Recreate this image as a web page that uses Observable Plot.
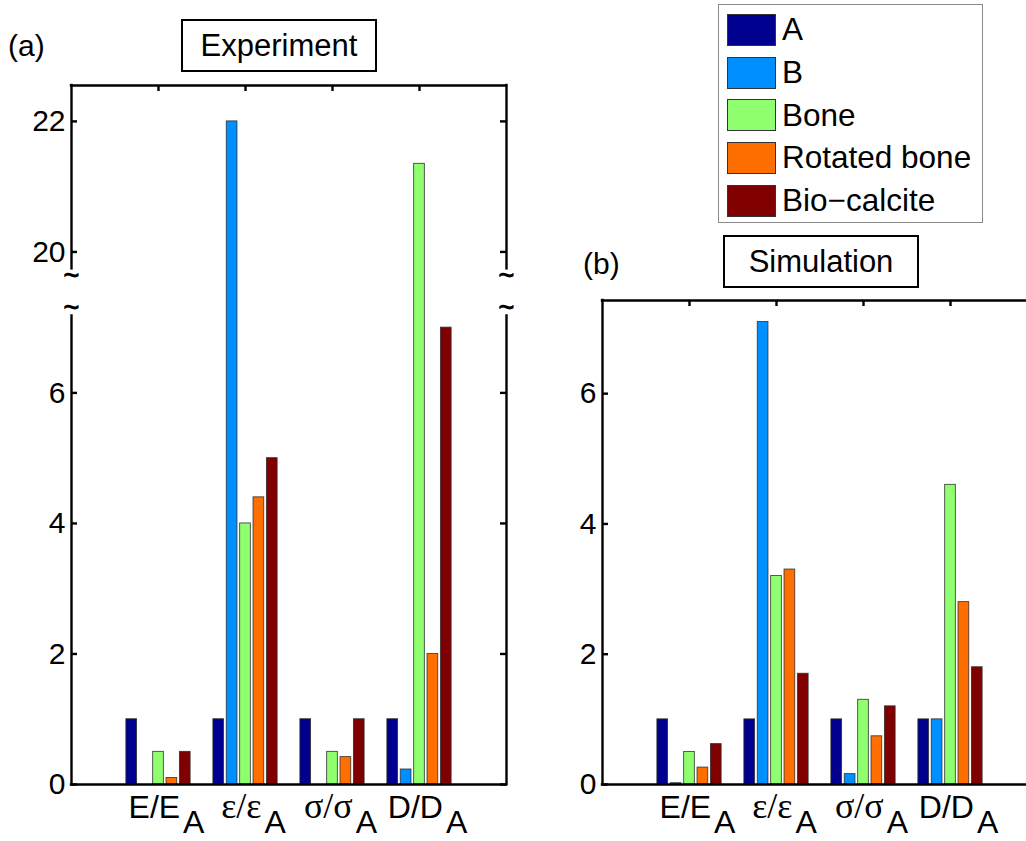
<!DOCTYPE html>
<html>
<head>
<meta charset="utf-8">
<script src="https://cdn.jsdelivr.net/npm/d3@7"></script>
<script src="https://cdn.jsdelivr.net/npm/@observablehq/plot@0.6"></script>
<style>
  html, body { margin: 0; padding: 0; background: #fff; overflow: hidden; width: 1026px; height: 841px; }
  #root { position: relative; width: 1026px; height: 841px; font-family: "Liberation Sans", Arial, Helvetica, sans-serif; color: #000; overflow: hidden; }
  .panel { position: absolute; top: 0; }
  .tag { position: absolute; font-size: 30px; line-height: 1; }
  .titlebox { position: absolute; border: 2px solid #000; box-sizing: border-box; display: flex; align-items: center; justify-content: center; font-size: 31px; background: #fff; }
  .legend { position: absolute; border: 1px solid #8a8a8a; background: #fff; box-sizing: border-box; }
  .legend .row { position: absolute; left: 8px; display: flex; align-items: center; height: 32px; }
  .legend .sw { width: 49px; height: 32px; border: 1px solid #333; box-sizing: border-box; }
  .legend .lab { font-size: 31.5px; margin-left: 6px; line-height: 1; }
</style>
</head>
<body>
<div id="root"></div>
<script>
// Ratio groups on the x axis (numerator/denominator, subscript appended below)
const categories = ["E/E", "ε/ε", "σ/σ", "D/D"];
const greekCategory = [false, true, true, false];
const subscript = "A";

// Materials (one bar per material in each group)
const series = ["A", "B", "Bone", "Rotated bone", "Bio\u2212calcite"];
const colors = ["#00008F", "#008FFF", "#8FFF6F", "#FF6F00", "#800000"];

// Experiment values, one array per material, in category order
const expA    = [1, 1, 1, 1];
const expB    = [0, 22, 0, 0.23];
const expBone = [0.5, 4.0, 0.5, 21.35];
const expRot  = [0.1, 4.4, 0.42, 2.0];
const expBio  = [0.5, 5.0, 1.0, 7.0];

// Simulation values
const simA    = [1, 1, 1, 1];
const simB    = [0.02, 7.1, 0.16, 1.0];
const simBone = [0.5, 3.2, 1.3, 4.6];
const simRot  = [0.26, 3.3, 0.74, 2.8];
const simBio  = [0.62, 1.7, 1.2, 1.8];

// Tick labels
const expTicks = [0, 2, 4, 6, 20, 22];
const simTicks = [0, 2, 4, 6];

// Broken y axis of the experiment panel: values above the break are shifted down
const expBreak = { low: 7.18, high: 19.74, gap: 0.72 };
expBreak.offset = expBreak.high - expBreak.low - expBreak.gap;

const W = 520, H = 841, mL = 71, mR = 14, mB = 57;
const frameW = W - mL - mR;
const groupWidth = series.length / (series.length + 1.5);
const slot = groupWidth / series.length;
const barW = slot * 0.8;
const axisStroke = 2.4;
const sans = '"Liberation Sans", Arial, Helvetica, sans-serif';
const serif = '"Liberation Serif", "Times New Roman", serif';

function panel({ values, ticks, top, yMax, brk, dropZero }) {
  const toDisp = v => (brk && v >= brk.high ? v - brk.offset : v);
  const fromDisp = d => Math.round((brk && d > brk.low ? d + brk.offset : d) * 100) / 100;
  const frameH = H - top - mB;
  const yTop = toDisp(yMax);

  const rows = [];
  values.forEach((vals, s) => vals.forEach((v, c) => {
    if (dropZero && v <= 0) return;
    const center = c + 1 + (s - (series.length - 1) / 2) * slot;
    rows.push({ x1: center - barW / 2, x2: center + barW / 2, y1: 0, y2: toDisp(v), color: colors[s] });
  }));

  const tickDisp = ticks.map(toDisp);
  const catPos = categories.map((_, i) => i + 1);

  let sides;
  let tildes = [];
  if (brk) {
    const hi = toDisp(brk.high);
    sides = [0, 5].flatMap(x => [{ x, y1: 0, y2: brk.low }, { x, y1: hi, y2: yTop }]);
    tildes = [0, 5].flatMap(x => [{ x, y: brk.low + 0.12 }, { x, y: brk.low + 0.6 }]);
  } else {
    sides = [0, 5].map(x => ({ x, y1: 0, y2: yTop }));
  }

  const svg = Plot.plot({
    width: W, height: H,
    marginLeft: mL, marginRight: mR, marginTop: top, marginBottom: mB,
    x: { domain: [0, 5], axis: null },
    y: { domain: [0, yTop], axis: null },
    style: { fontFamily: sans, fontSize: "29px", background: "transparent", overflow: "visible", color: "#000" },
    marks: [
      // inward ticks on all four sides
      Plot.tickX(catPos, { x: d => d, insetTop: frameH - 6, stroke: "#000", strokeWidth: axisStroke }),
      Plot.tickX(catPos, { x: d => d, insetBottom: frameH - 6, stroke: "#000", strokeWidth: axisStroke }),
      Plot.tickY(tickDisp, { y: d => d, insetRight: frameW - 6, stroke: "#000", strokeWidth: axisStroke }),
      Plot.tickY(tickDisp, { y: d => d, insetLeft: frameW - 6, stroke: "#000", strokeWidth: axisStroke }),
      // grouped bars
      Plot.rect(rows, { x1: "x1", x2: "x2", y1: "y1", y2: "y2", fill: "color", stroke: "#2a2a2a", strokeWidth: 0.9, strokeOpacity: 0.85 }),
      // axes box
      Plot.ruleY([0, yTop], { y: d => d, stroke: "#000", strokeWidth: axisStroke, strokeLinecap: "square" }),
      Plot.ruleX(sides, { x: "x", y1: "y1", y2: "y2", stroke: "#000", strokeWidth: axisStroke, strokeLinecap: "square" }),
      // break marks on both vertical axes
      Plot.text(tildes, { x: "x", y: "y", text: () => "~", fontSize: 27, textAnchor: "middle", lineAnchor: "middle", fill: "#000", stroke: "#000", strokeWidth: 0.9 }),
      // tick labels
      Plot.axisY(tickDisp, { tickSize: 0, tickPadding: 6, tickFormat: d => String(fromDisp(d)), fontSize: 30 }),
      Plot.axisX(catPos, { tickSize: 0, tickPadding: 11, tickFormat: d => categories[d - 1], fontSize: 32 })
    ]
  });

  // Ratio labels: greek symbols in a serif face, followed by a lowered subscript
  const ns = "http://www.w3.org/2000/svg";
  svg.querySelectorAll('g[aria-label="x-axis tick label"] text').forEach((t, i) => {
    t.textContent = "";
    const main = document.createElementNS(ns, "tspan");
    main.textContent = categories[i];
    if (greekCategory[i]) {
      main.setAttribute("font-family", serif);
      main.setAttribute("font-size", "36");
    }
    const sub = document.createElementNS(ns, "tspan");
    sub.textContent = subscript;
    sub.setAttribute("dy", "15");
    sub.setAttribute("dx", "3");
    t.appendChild(main);
    t.appendChild(sub);
    const x0 = +(t.getAttribute("x") || 0);
    t.setAttribute("x", x0 + 8);
  });
  return svg;
}

const root = document.getElementById("root");

function place(el, left) {
  el.classList.add("panel");
  el.style.left = left + "px";
  root.appendChild(el);
}

place(panel({
  values: [expA, expB, expBone, expRot, expBio],
  ticks: expTicks, top: 85, yMax: 22.55, brk: expBreak, dropZero: true
}), 0);

place(panel({
  values: [simA, simB, simBone, simRot, simBio],
  ticks: simTicks, top: 300, yMax: 7.43, brk: null, dropZero: false
}), 531);

// Panel tags and boxed titles
function addText(cls, text, css) {
  const d = document.createElement("div");
  d.className = cls;
  d.textContent = text;
  Object.assign(d.style, css);
  root.appendChild(d);
}
addText("tag", "(a)", { left: "8px", top: "31px" });
addText("titlebox", "Experiment", { left: "181px", top: "19px", width: "196px", height: "53px" });
addText("tag", "(b)", { left: "583px", top: "249px" });
addText("titlebox", "Simulation", { left: "723px", top: "235px", width: "196px", height: "53px" });

// Legend
const legend = document.createElement("div");
legend.className = "legend";
Object.assign(legend.style, { left: "718px", top: "4px", width: "265px", height: "219px" });
series.forEach((name, i) => {
  const row = document.createElement("div");
  row.className = "row";
  row.style.top = (9 + i * 42.7) + "px";
  const sw = document.createElement("div");
  sw.className = "sw";
  sw.style.background = colors[i];
  const lab = document.createElement("span");
  lab.className = "lab";
  lab.textContent = name;
  row.appendChild(sw);
  row.appendChild(lab);
  legend.appendChild(row);
});
root.appendChild(legend);
</script>
</body>
</html>
